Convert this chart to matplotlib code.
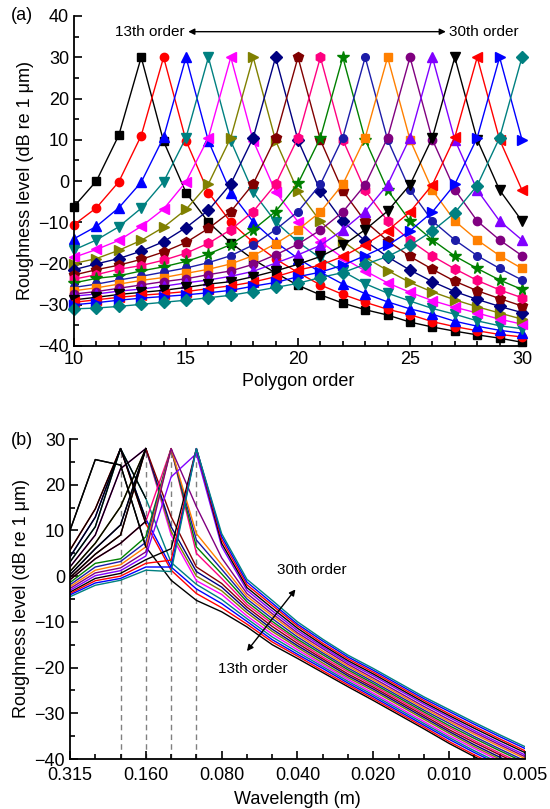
import matplotlib
matplotlib.use("Agg")
import matplotlib.pyplot as plt
from matplotlib.ticker import MultipleLocator, FixedLocator

plt.rcParams['font.family'] = ['Liberation Sans', 'DejaVu Sans']

# ---------------- data: panel (a) ----------------
polygon_order = list(range(10, 31))
orders = list(range(13, 31))

a_13 = [-6.2, 0.0, 11.1, 30, 9.6, -2.8, -10.0, -15.0, -19.0, -22.3, -25.3, -27.6, -29.6, -31.2, -32.5, -34.2, -35.4, -36.4, -37.3, -38.1, -39.1]
a_14 = [-10.6, -6.5, -0.2, 11.0, 30, 9.8, -2.8, -10.0, -14.9, -18.9, -22.2, -25.2, -27.5, -29.4, -31.1, -32.4, -34.1, -35.3, -36.3, -37.2, -37.8]
a_15 = [-14.0, -11.0, -6.5, -0.3, 10.6, 30, 9.7, -2.8, -9.9, -14.8, -18.8, -22.1, -25.0, -27.3, -29.3, -31.0, -32.3, -34.0, -35.2, -36.2, -36.9]
a_16 = [-16.7, -14.3, -11.1, -6.6, -0.2, 10.5, 30, 9.7, -2.7, -9.9, -14.8, -18.7, -21.9, -24.9, -27.2, -29.1, -30.9, -32.3, -33.9, -35.1, -35.8]
a_17 = [-18.5, -16.6, -14.4, -11.0, -6.8, -0.2, 10.5, 30, 9.8, -2.6, -9.9, -14.7, -18.6, -21.8, -24.7, -27.0, -29.0, -30.6, -32.0, -33.5, -34.7]
a_18 = [-20.0, -18.8, -16.8, -14.4, -11.2, -6.9, -0.7, 10.5, 30, 9.8, -2.5, -9.8, -14.6, -18.5, -21.7, -24.6, -26.9, -28.8, -30.5, -32.0, -33.5]
a_19 = [-21.5, -20.1, -18.8, -17.0, -14.7, -11.3, -7.1, -0.7, 10.5, 30, 9.9, -2.4, -9.8, -14.5, -18.4, -21.6, -24.4, -26.8, -28.7, -30.4, -31.9]
a_20 = [-22.8, -21.5, -20.4, -19.0, -17.2, -14.9, -11.5, -7.4, -0.7, 10.5, 30, 9.9, -2.4, -9.8, -14.5, -18.3, -21.4, -24.3, -26.6, -28.5, -30.3]
a_21 = [-23.8, -22.7, -21.4, -20.5, -19.2, -17.5, -15.1, -11.8, -7.4, -0.8, 10.5, 30, 10.0, -2.3, -9.7, -14.4, -18.2, -21.3, -24.1, -26.4, -28.3]
a_22 = [-24.7, -23.6, -23.0, -21.8, -20.8, -19.5, -17.7, -15.4, -11.8, -7.4, -0.6, 10.5, 30, 10.0, -2.2, -9.7, -14.3, -18.2, -21.2, -24.0, -26.3]
a_23 = [-25.8, -25.0, -24.0, -23.1, -22.1, -21.1, -19.8, -18.1, -15.5, -11.8, -7.4, -0.8, 10.5, 30, 10.0, -2.2, -9.7, -14.3, -18.1, -21.2, -24.0]
a_24 = [-26.6, -25.9, -25.0, -24.1, -23.4, -22.4, -21.4, -20.1, -18.1, -15.2, -11.8, -7.5, -0.8, 10.5, 30, 10.0, -2.2, -9.7, -14.3, -18.1, -21.2]
a_25 = [-27.4, -26.8, -26.0, -25.2, -24.4, -23.7, -22.7, -21.8, -20.2, -17.9, -15.3, -11.9, -7.5, -0.9, 10.5, 30, 10.0, -2.1, -9.7, -14.3, -18.1]
a_26 = [-27.9, -27.4, -26.7, -26.2, -25.5, -24.7, -24.0, -23.1, -21.9, -19.9, -17.9, -15.6, -11.9, -7.4, -0.9, 10.5, 30, 10.0, -2.2, -9.7, -14.3]
a_27 = [-28.8, -28.2, -27.5, -27.0, -26.5, -25.8, -25.0, -24.4, -23.2, -21.8, -20.2, -18.3, -15.6, -11.8, -7.3, -0.9, 10.5, 30, 10.0, -2.2, -9.7]
a_28 = [-29.4, -28.8, -28.2, -27.7, -27.3, -26.8, -26.1, -25.4, -24.5, -23.2, -21.6, -20.4, -18.3, -15.4, -12.0, -7.5, -0.9, 10.6, 30, 10.0, -2.2]
a_29 = [-30.0, -29.5, -28.9, -28.4, -28.0, -27.6, -27.1, -26.5, -25.5, -24.6, -23.2, -22.1, -20.4, -18.1, -15.6, -12.1, -7.5, -0.8, 10.5, 30, 10.0]
a_30 = [-31.0, -30.8, -30.4, -29.9, -29.4, -28.9, -28.3, -27.7, -26.8, -25.8, -24.8, -23.4, -22.2, -20.2, -18.3, -15.6, -12.1, -7.7, -1.1, 10.5, 30]

# ---------------- data: panel (b) ----------------
wavelength_bands = ['0.315', '0.250', '0.200', '0.160', '0.125', '0.100', '0.080', '0.063', '0.050', '0.040',
                    '0.0315', '0.025', '0.020', '0.016', '0.0125', '0.010', '0.008', '0.0063', '0.005']
wavelength_ticklabels = ['0.315', '0.160', '0.080', '0.040', '0.020', '0.010', '0.005']
peak_band_markers = ['0.200', '0.160', '0.125', '0.100']
black_segment_last_band = '0.160'     # long-wavelength part of orders 13-21 is drawn black
black_segment_orders = list(range(13, 22))

b_13 = [10.0, 25.5, 24.3, 6.4, -0.9, -5.3, -7.8, -11.1, -15.0, -18.0, -21.1, -24.2, -27.2, -30.3, -33.4, -36.6, -39.5, -42.2, -44.8]
b_14 = [5.7, 14.7, 27.9, 11.5, 1.3, -3.8, -6.9, -10.5, -14.4, -17.5, -20.7, -23.8, -26.8, -29.9, -33.0, -36.2, -39.1, -41.8, -44.4]
b_15 = [4.2, 12.9, 27.9, 12.5, 2.0, -2.8, -6.0, -9.9, -13.9, -17.1, -20.2, -23.4, -26.4, -29.5, -32.6, -35.7, -38.6, -41.3, -43.9]
b_16 = [3.1, 10.8, 27.9, 17.0, 3.0, -1.8, -5.1, -9.3, -13.3, -16.6, -19.8, -23.0, -26.0, -29.1, -32.2, -35.3, -38.2, -40.9, -43.5]
b_17 = [2.0, 9.0, 23.5, 27.9, 9.0, -1.0, -4.0, -8.7, -12.7, -16.1, -19.4, -22.6, -25.6, -28.7, -31.8, -34.9, -37.7, -40.4, -43.0]
b_18 = [1.0, 7.2, 15.2, 27.9, 9.8, 0.0, -3.2, -8.0, -12.1, -15.6, -19.0, -22.2, -25.1, -28.2, -31.3, -34.4, -37.3, -40.0, -42.6]
b_19 = [0.3, 6.0, 11.2, 27.9, 10.8, 1.0, -2.4, -7.4, -11.6, -15.2, -18.5, -21.8, -24.7, -27.8, -30.9, -34.0, -36.9, -39.6, -42.2]
b_20 = [-0.3, 4.8, 9.0, 27.9, 13.0, 2.0, -1.6, -6.8, -11.0, -14.7, -18.1, -21.4, -24.3, -27.4, -30.5, -33.6, -36.4, -39.1, -41.7]
b_21 = [-0.8, 3.8, 7.2, 12.0, 27.9, 5.0, -0.5, -6.2, -10.4, -14.2, -17.7, -20.9, -23.9, -27.0, -30.1, -33.1, -36.0, -38.7, -41.3]
b_22 = [-1.4, 2.8, 3.8, 8.6, 27.9, 6.4, 0.5, -5.6, -9.9, -13.8, -17.2, -20.5, -23.5, -26.6, -29.7, -32.7, -35.5, -38.2, -40.8]
b_23 = [-1.9, 2.0, 3.2, 7.4, 27.9, 7.9, 1.5, -5.0, -9.3, -13.3, -16.8, -20.1, -23.1, -26.2, -29.3, -32.2, -35.1, -37.8, -40.4]
b_24 = [-2.3, 1.3, 2.5, 6.4, 27.9, 9.3, 2.5, -4.4, -8.7, -12.8, -16.4, -19.7, -22.7, -25.8, -28.9, -31.8, -34.6, -37.3, -39.9]
b_25 = [-2.7, 0.7, 1.8, 5.3, 27.9, 15.2, 4.0, -3.8, -8.2, -12.4, -15.9, -19.3, -22.3, -25.4, -28.5, -31.4, -34.2, -36.9, -39.5]
b_26 = [-3.1, 0.1, 1.2, 4.4, 21.7, 26.8, 6.5, -3.1, -7.6, -11.9, -15.5, -18.9, -21.8, -24.9, -28.0, -30.9, -33.8, -36.5, -39.1]
b_27 = [-3.5, -0.5, 0.6, 3.6, 6.0, 27.9, 7.2, -2.5, -7.0, -11.4, -15.1, -18.5, -21.4, -24.5, -27.6, -30.5, -33.3, -36.0, -38.6]
b_28 = [-3.8, -1.0, 0.0, 2.8, 3.5, 27.9, 8.0, -1.9, -6.4, -10.9, -14.7, -18.1, -21.0, -24.1, -27.2, -30.1, -32.9, -35.6, -38.2]
b_29 = [-4.1, -1.5, -0.5, 2.0, 2.0, 27.9, 8.7, -1.3, -5.9, -10.5, -14.2, -17.7, -20.6, -23.7, -26.8, -29.6, -32.4, -35.1, -37.7]
b_30 = [-4.5, -2.0, -0.9, 1.3, 1.0, 27.9, 9.3, -0.7, -5.3, -10.0, -13.8, -17.3, -20.2, -23.3, -26.4, -29.2, -32.0, -34.7, -37.3]

a_series = [a_13, a_14, a_15, a_16, a_17, a_18, a_19, a_20, a_21, a_22, a_23, a_24, a_25, a_26, a_27, a_28, a_29, a_30]
b_series = [b_13, b_14, b_15, b_16, b_17, b_18, b_19, b_20, b_21, b_22, b_23, b_24, b_25, b_26, b_27, b_28, b_29, b_30]

# ---------------- styles ----------------
colors = ['#000000', '#FF0000', '#0000FF', '#008080', '#FF00FF', '#808000', '#000080', '#800000', '#FF0080',
          '#008000', '#1C1CA8', '#FF8000', '#800080', '#8000FF', '#000000', '#FF0000', '#0000FF', '#008080']
markers = ['s', 'o', '^', 'v', '<', '>', 'D', 'p', 'h', '*', 'o', 's', 'o', '^', 'v', '<', '>', 'D']
msizes = [5.5, 6, 7.5, 7.5, 7.5, 7.5, 6, 7, 7, 8.5, 5.5, 5.5, 6, 7.5, 7.5, 7.5, 7.5, 6.5]

fig = plt.figure(figsize=(5.5, 8.09), dpi=100)

# ---------------- panel (a) ----------------
axa = fig.add_axes([74/550, 1-346/809, 448/550, 330/809])
for vals, c, m, ms in zip(a_series, colors, markers, msizes):
    axa.plot(polygon_order, vals, color=c, marker=m, markersize=ms, markeredgecolor=c,
             markerfacecolor=c, linewidth=1.0, clip_on=False)
axa.set_xlim(10, 30)
axa.set_ylim(-40, 40)
axa.xaxis.set_major_locator(MultipleLocator(5))
axa.xaxis.set_minor_locator(MultipleLocator(1))
axa.yaxis.set_major_locator(MultipleLocator(10))
axa.yaxis.set_minor_locator(MultipleLocator(5))
axa.set_xlabel('Polygon order', fontsize=13, labelpad=4)
axa.set_ylabel('Roughness level (dB re 1 \u03bcm)', fontsize=13, labelpad=3)

axa.annotate('', xy=(15.1, 36.2), xytext=(26.6, 36.2),
             arrowprops=dict(arrowstyle='<|-|>', color='black', lw=1.0, mutation_scale=9, shrinkA=0, shrinkB=0))
axa.text(14.95, 36.2, '13th order', fontsize=11, ha='right', va='center')
axa.text(26.75, 36.2, '30th order', fontsize=11, ha='left', va='center')
fig.text(22/550, 1-16/809, '(a)', fontsize=13, ha='center', va='center')

# ---------------- panel (b) ----------------
axb = fig.add_axes([70/550, 1-759/809, 455/550, 320/809])
xb = list(range(len(wavelength_bands)))
for name in peak_band_markers:
    i = wavelength_bands.index(name)
    axb.plot([i, i], [-40, 27.9], color='#808080', linestyle=(0, (4, 3)), linewidth=1.0, zorder=1)
for vals, c in zip(b_series, colors):
    axb.plot(xb, vals, color=c, linewidth=1.0, zorder=2)
k = wavelength_bands.index(black_segment_last_band) + 1
for n in black_segment_orders:
    vals = b_series[orders.index(n)]
    axb.plot(xb[:k], vals[:k], color='black', linewidth=1.0, zorder=3)
axb.set_xlim(0, len(wavelength_bands) - 1)
axb.set_ylim(-40, 30)
major_idx = [wavelength_bands.index(lbl) for lbl in wavelength_ticklabels]
axb.xaxis.set_major_locator(FixedLocator(major_idx))
axb.set_xticklabels(wavelength_ticklabels)
axb.xaxis.set_minor_locator(FixedLocator(xb))
axb.yaxis.set_major_locator(MultipleLocator(10))
axb.yaxis.set_minor_locator(MultipleLocator(5))
axb.set_xlabel('Wavelength (m)', fontsize=13, labelpad=5)
axb.set_ylabel('Roughness level (dB re 1 \u03bcm)', fontsize=13, labelpad=3)

axb.annotate('', xy=(8.92, -2.9), xytext=(7.0, -16.4),
             arrowprops=dict(arrowstyle='<|-|>', color='black', lw=1.0, mutation_scale=9, shrinkA=0, shrinkB=0),
             zorder=5)
axb.text(8.2, 1.3, '30th order', fontsize=11, ha='left', va='center')
axb.text(5.85, -20.3, '13th order', fontsize=11, ha='left', va='center')
fig.text(22/550, 1-440/809, '(b)', fontsize=13, ha='center', va='center')

for ax in (axa, axb):
    ax.spines['top'].set_visible(False)
    ax.spines['right'].set_visible(False)
    ax.spines['left'].set_linewidth(1.3)
    ax.spines['bottom'].set_linewidth(1.3)
    ax.tick_params(which='both', direction='in', labelsize=13, width=1.2)
    ax.tick_params(which='major', length=6)
    ax.tick_params(which='minor', length=3.5)
axb.tick_params(axis='x', which='major', pad=6)

fig.savefig('out.png', dpi=100)
